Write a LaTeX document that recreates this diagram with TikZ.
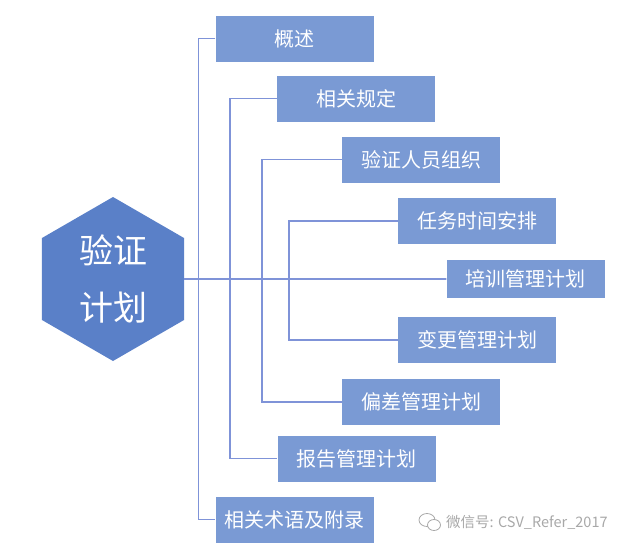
\documentclass[tikz,border=0pt]{standalone}
\usepackage{fontspec}
\newfontfamily\cjk{Noto Sans CJK SC}
\usetikzlibrary{shapes.geometric}
\definecolor{hexblue}{HTML}{5A80C8}
\definecolor{boxblue}{HTML}{7A9AD4}
\definecolor{lineblue}{HTML}{7F93D8}
\definecolor{markgray}{HTML}{A8A8A8}
\begin{document}
\begin{tikzpicture}[x=1pt,y=-1pt,
    item/.style={fill=boxblue,text=white,minimum width=158pt,minimum height=46pt,
      inner sep=0pt,font=\cjk\fontsize{20}{20}\selectfont},
    branch/.style={draw=lineblue,line width=1.6pt}]
    \useasboundingbox (0,0) rectangle (640,554);

    \node[regular polygon,regular polygon sides=6,shape border rotate=30,
      minimum size=164pt,inner sep=0pt,fill=hexblue,text=white,align=center,
      font=\cjk\fontsize{34}{57}\selectfont]
      (plan) at (113,279) {验证\\计划};

    \node[item] (intro) at (294.5,38.5) {概述};
    \node[item] (rules) at (356,98.5) {相关规定};
    \node[item] (staff) at (421,159.5) {验证人员组织};
    \node[item] (schedule) at (477,221) {任务时间安排};
    \node[item,minimum height=38pt] (train) at (525.5,279) {培训管理计划};
    \node[item] (change) at (477,340) {变更管理计划};
    \node[item] (deviation) at (421,402) {偏差管理计划};
    \node[item] (report) at (356.5,458.5) {报告管理计划};
    \node[item] (annex) at (294.5,519.5) {相关术语及附录};

    \draw[branch] (plan.east) -- (train.west);
    \draw[branch] (intro.west) -- ++(-17,0) |- (annex.west);
    \draw[branch] (rules.west) -- ++(-47,0) |- (report.west);
    \draw[branch] (staff.west) -- ++(-80,0) |- (deviation.west);
    \draw[branch] (schedule.west) -- ++(-109,0) |- (change.west);

    \draw[markgray,line width=0.8pt] (427,520) ellipse (8 and 6.5);
    \draw[markgray,line width=0.8pt,fill=white] (434,525) ellipse (6.5 and 5.5);
    \node[anchor=west,text=markgray,inner sep=0pt,font=\cjk\fontsize{14.5}{14.5}\selectfont]
      (mark) at (446,522) {微信号: CSV\_Refer\_2017};
\end{tikzpicture}
\end{document}
